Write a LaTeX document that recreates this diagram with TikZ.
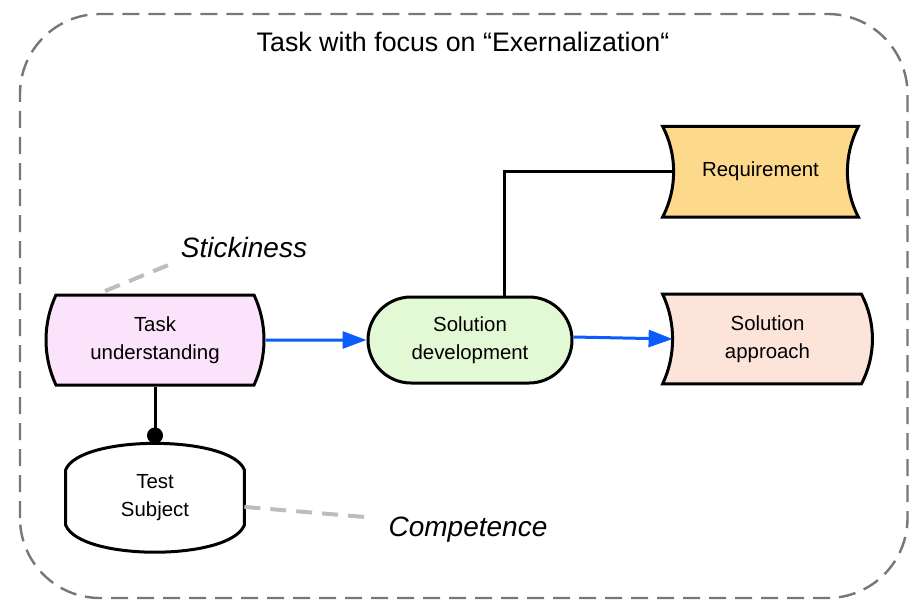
\documentclass[tikz,border=0pt]{standalone}
\usepackage{fontspec}
\setmainfont{Liberation Sans}
\usetikzlibrary{positioning,shapes.misc,arrows.meta,backgrounds,calc}

\definecolor{taskpink}{HTML}{FCE3FC}
\definecolor{devgreen}{HTML}{E3F9D6}
\definecolor{reqorange}{HTML}{FDD98B}
\definecolor{apppeach}{HTML}{FDE4DA}
\definecolor{flowblue}{HTML}{0B5CFF}
\definecolor{framegray}{HTML}{777777}
\definecolor{hintgray}{HTML}{BDBDBD}

\tikzset{
  box/.style={rounded rectangle, draw=black, line width=1.5pt, align=center,
    inner sep=0pt, font=\fontsize{10.2}{14}\selectfont},
  plainbox/.style={align=center, inner sep=0pt, font=\fontsize{10.2}{14}\selectfont},
  flow/.style={draw=flowblue, line width=1.5pt, -{Triangle[length=12pt,width=8.5pt]}},
  link/.style={draw=black, line width=1.5pt},
  hint/.style={draw=hintgray, line width=2pt, dash pattern=on 8pt off 5pt},
  hinttext/.style={inner sep=2pt, font=\fontsize{14}{16}\selectfont\itshape},
}

\begin{document}
\begin{tikzpicture}[x=0.5pt,y=0.5pt]
	\useasboundingbox (0,0) rectangle (909,601);
	\draw[framegray, line width=1.2pt, dash pattern=on 8.5pt off 4.5pt, rounded corners=40pt]
		(20,3) rectangle (907.5,587);
	\node[font=\fontsize{13.4}{15}\selectfont] (title) at (463,559) {Task with focus on “Exernalization“};

	\node[box, fill=taskpink, minimum width=109pt, minimum height=45pt,
		rounded rectangle arc length=50] (task) at (155,261) {Task\\understanding};
	\node[box, fill=devgreen, minimum width=102pt, minimum height=43pt,
		right=50.5pt of task] (dev) {Solution\\development};
	\node[plainbox, minimum width=104.5pt, minimum height=44.5pt] (app) at (767.5,262) {Solution\\approach};
	\node[plainbox, minimum width=97.5pt, minimum height=45pt,
		above=38.5pt of app, xshift=-3.5pt] (req) {Requirement};
	\node[plainbox, minimum width=89pt, minimum height=54pt, below=28.5pt of task] (subj) {Test\\Subject};

	\begin{scope}[on background layer]
		% outlines of the three drawn-by-hand shapes
		\draw[link, fill=white] ($(subj.west)+(0,-27)$) -- ($(subj.west)+(0,28)$)
			.. controls ($(subj.north west)+(14,9)$) and ($(subj.north east)+(-14,9)$) .. ($(subj.east)+(0,28)$)
			-- ($(subj.east)+(0,-27)$)
			.. controls ($(subj.south east)+(-14,-9)$) and ($(subj.south west)+(14,-9)$) .. cycle;
		\draw[link, fill=apppeach] (app.north west) -- ($(app.north east)+(-11,0)$)
			.. controls ($(app.north east)+(3.7,-28)$) and ($(app.south east)+(3.7,28)$) .. ($(app.south east)+(-11,0)$)
			-- (app.south west)
			.. controls ($(app.south west)+(13.3,28)$) and ($(app.north west)+(13.3,-28)$) .. cycle;
		\draw[link, fill=reqorange] (req.north west) -- (req.north east)
			.. controls ($(req.north east)+(-14.7,-28)$) and ($(req.south east)+(-14.7,28)$) .. (req.south east)
			-- (req.south west)
			.. controls ($(req.south west)+(14.7,28)$) and ($(req.north west)+(14.7,-28)$) .. cycle;
	\end{scope}

	\node[hinttext] (stick) at (244,354) {Stickiness};
	\node[hinttext] (comp) at (468,71) {Competence};
	\coordinate (stickfoot) at (105,310);

	\draw[flow] (task) -- (dev);
	\draw[flow] ([yshift=1.5pt]dev.east) -- ([xshift=5pt]app.west);
	\draw[link] ([xshift=17pt]dev.north) |- ([xshift=5.5pt]req.west);
	\draw[link, -{Circle[length=8pt]}] (task.south) -- (subj.north);
	\draw[hint] (stickfoot) -- (stick.south west);
	\draw[hint] ([yshift=-4.5pt]subj.east) -- ([xshift=-10pt,yshift=-2pt]comp.north west);
\end{tikzpicture}
\end{document}
